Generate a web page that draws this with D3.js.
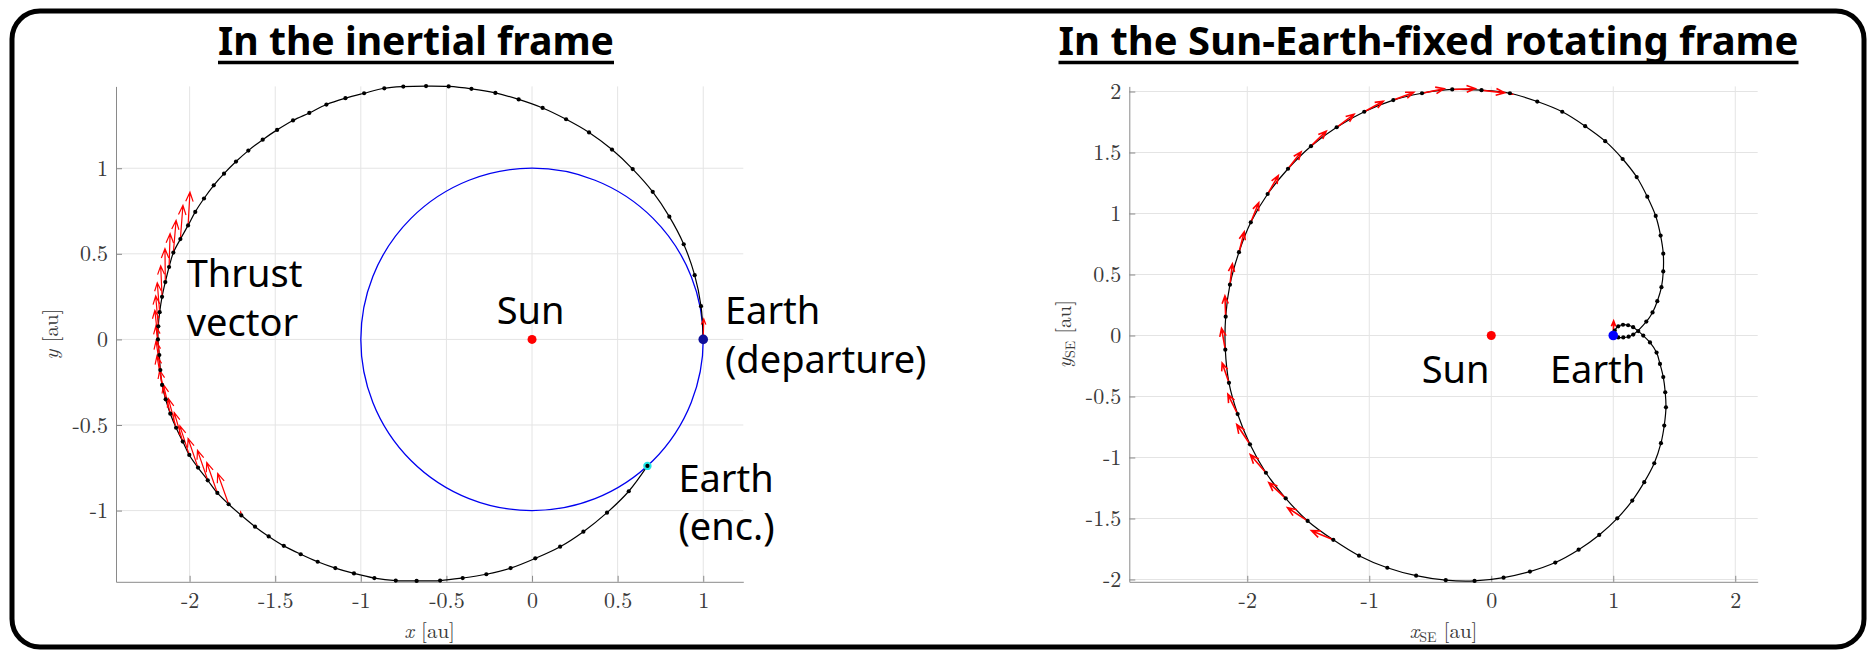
<!DOCTYPE html>
<html>
<head>
<meta charset="utf-8">
<script src="https://cdn.jsdelivr.net/npm/d3@7"></script>
<style>
  body { margin: 0; background: #fff; }
  svg { display: block; }
</style>
</head>
<body>
<div id="chart"></div>
<script>
// tick values for both panels
var xTicksInertial = [-2, -1.5, -1, -0.5, 0, 0.5, 1];
var yTicksInertial = [-1, -0.5, 0, 0.5, 1];
var xTicksRotating = [-2, -1, 0, 1, 2];
var yTicksRotating = [-2, -1.5, -1, -0.5, 0, 0.5, 1, 1.5, 2];

// transfer trajectory nodes in the inertial frame [x, y] (au)
var inertialPath = [
  [1.000,0.000],[0.987,0.194],[0.950,0.375],[0.886,0.556],[0.802,0.717],[0.705,0.862],
  [0.588,0.995],[0.467,1.109],[0.333,1.209],[0.199,1.286],[0.062,1.352],[-0.078,1.402],
  [-0.214,1.440],[-0.354,1.464],[-0.487,1.478],[-0.619,1.480],[-0.752,1.477],[-0.863,1.467],
  [-0.981,1.438],[-1.090,1.409],[-1.201,1.372],[-1.301,1.323],[-1.396,1.279],[-1.489,1.224],
  [-1.573,1.167],[-1.657,1.103],[-1.729,1.039],[-1.799,0.968],[-1.859,0.900],[-1.916,0.823],
  [-1.967,0.745],[-2.009,0.666],[-2.054,0.586],[-2.095,0.507],[-2.120,0.423],[-2.142,0.335],
  [-2.161,0.249],[-2.175,0.159],[-2.183,0.077],[-2.185,0.000],[-2.177,-0.091],[-2.171,-0.179],
  [-2.161,-0.266],[-2.140,-0.350],[-2.113,-0.434],[-2.079,-0.516],[-2.040,-0.597],[-2.002,-0.675],
  [-1.951,-0.749],[-1.894,-0.823],[-1.838,-0.897],[-1.772,-0.963],[-1.698,-1.028],[-1.618,-1.094],
  [-1.538,-1.151],[-1.450,-1.206],[-1.351,-1.255],[-1.252,-1.299],[-1.149,-1.336],[-1.040,-1.367],
  [-0.921,-1.394],[-0.796,-1.409],[-0.674,-1.411],[-0.537,-1.409],[-0.405,-1.394],[-0.267,-1.372],
  [-0.125,-1.336],[0.019,-1.279],[0.164,-1.211],[0.300,-1.123],[0.438,-1.012],[0.565,-0.887],
  [0.674,-0.739]
];

// thrust vectors in the inertial frame [x, y, dx, dy]
var thrustInertial = [
  [1.000,0.000,0.003,0.120],
  [-2.009,0.666,0.011,0.194],[-2.054,0.586,0.015,0.197],[-2.095,0.507,0.016,0.188],
  [-2.120,0.423,0.006,0.195],[-2.142,0.335,-0.002,0.195],[-2.161,0.249,-0.008,0.181],
  [-2.175,0.159,-0.014,0.172],[-2.183,0.077,-0.015,0.177],[-2.185,0.000,-0.018,0.170],
  [-2.177,-0.091,-0.020,0.170],[-2.171,-0.179,-0.025,0.170],[-2.161,-0.266,-0.030,0.170],
  [-2.140,-0.350,-0.035,0.170],[-2.113,-0.434,-0.040,0.170],[-2.079,-0.516,-0.045,0.170],
  [-2.040,-0.597,-0.050,0.170],[-2.002,-0.675,-0.055,0.170],[-1.951,-0.749,-0.058,0.170],
  [-1.894,-0.823,-0.060,0.175],[-1.838,-0.897,-0.062,0.178],[-1.772,-0.963,-0.064,0.180],
  [-1.698,-1.028,-0.004,0.020]
];

// trajectory nodes in the Sun-Earth rotating frame [x, y] (au)
var rotatingPath = [
  [1.000,0.000],[1.012,0.040],[1.041,0.075],[1.080,0.088],[1.122,0.084],[1.163,0.068],
  [1.205,0.036],[1.246,-0.001],[1.301,-0.057],[1.355,-0.140],[1.383,-0.233],[1.410,-0.341],
  [1.426,-0.465],[1.432,-0.589],[1.418,-0.738],[1.391,-0.883],[1.336,-1.047],[1.254,-1.202],
  [1.156,-1.353],[1.033,-1.499],[0.885,-1.635],[0.716,-1.756],[0.525,-1.861],[0.317,-1.935],
  [0.101,-1.985],[-0.137,-2.012],[-0.373,-2.006],[-0.616,-1.969],[-0.852,-1.904],[-1.084,-1.805],
  [-1.295,-1.675],[-1.505,-1.520],[-1.685,-1.335],[-1.847,-1.125],[-1.978,-0.892],[-2.079,-0.644],
  [-2.150,-0.388],[-2.180,-0.116],[-2.177,0.154],[-2.142,0.417],[-2.068,0.683],[-1.971,0.928],
  [-1.833,1.160],[-1.666,1.367],[-1.478,1.552],[-1.267,1.707],[-1.041,1.834],[-0.803,1.930],
  [-0.568,1.986],[-0.320,2.017],[-0.080,2.011],[0.153,1.986],[0.377,1.918],[0.582,1.834],
  [0.770,1.716],[0.934,1.593],[1.077,1.447],[1.192,1.299],[1.279,1.138],[1.348,0.980],
  [1.388,0.819],[1.410,0.671],[1.410,0.525],[1.395,0.396],[1.361,0.281],[1.322,0.189],
  [1.271,0.114],[1.164,0.008],[1.126,-0.010],[1.082,-0.016],[1.041,-0.016],[1.000,0.000]
];

// thrust vectors in the rotating frame [x, y, dx, dy]
var thrustRotating = [
  [1.000,0.000,0.003,0.120],
  [-1.295,-1.675,-0.179,0.075],[-1.505,-1.520,-0.165,0.108],[-1.685,-1.335,-0.138,0.128],
  [-1.847,-1.125,-0.128,0.148],[-1.978,-0.892,-0.108,0.162],[-2.079,-0.644,-0.080,0.162],
  [-2.150,-0.388,-0.056,0.163],[-2.180,-0.116,-0.031,0.175],[-2.177,0.154,-0.006,0.171],
  [-2.142,0.417,0.020,0.170],[-2.068,0.683,0.043,0.166],[-1.971,0.928,0.065,0.160],
  [-1.833,1.160,0.087,0.150],[-1.666,1.367,0.107,0.138],[-1.478,1.552,0.125,0.123],
  [-1.267,1.707,0.142,0.106],[-1.041,1.834,0.156,0.086],[-0.803,1.930,0.168,0.063],
  [-0.568,1.986,0.181,0.037],[-0.320,2.017,0.188,0.007],[-0.080,2.011,0.190,-0.022],
  [0.153,1.986,0.019,-0.008]
];

var sunPos = [0, 0];
var earthDeparture = [1, 0];
var earthEncounter = [0.674, -0.739];
var earthOrbitRadius = 1;

var W = 1872, H = 652;
var svg = d3.select("#chart").append("svg")
  .attr("width", W)
  .attr("height", H)
  .style("font-family", "'Noto Sans', sans-serif");

svg.append("rect").attr("width", W).attr("height", H).style("fill", "#fff");

// rounded frame around everything
svg.append("rect")
  .attr("x", 12).attr("y", 11)
  .attr("width", 1852).attr("height", 636)
  .attr("rx", 28).attr("ry", 28)
  .style("fill", "none").style("stroke", "#000").style("stroke-width", 5);

var tickFont = "'Latin Modern Roman', 'Liberation Serif', serif";

function drawArrows(g, x, y, list, sw, hf) {
  list.forEach(function(a) {
    var x0 = x(a[0]), y0 = y(a[1]),
        x1 = x(a[0] + a[2]), y1 = y(a[1] + a[3]);
    var dx = x1 - x0, dy = y1 - y0,
        len = Math.sqrt(dx*dx + dy*dy),
        ang = Math.atan2(dy, dx),
        hl = len * hf, ha = 0.38;
    var hx1 = x1 - hl*Math.cos(ang - ha), hy1 = y1 - hl*Math.sin(ang - ha),
        hx2 = x1 - hl*Math.cos(ang + ha), hy2 = y1 - hl*Math.sin(ang + ha);
    g.append("path")
      .attr("d", "M" + x0 + "," + y0 + "L" + x1 + "," + y1 +
                 "M" + hx1 + "," + hy1 + "L" + x1 + "," + y1 + "L" + hx2 + "," + hy2)
      .style("fill", "none")
      .style("stroke", "#ff0000")
      .style("stroke-width", sw);
  });
}

function drawPanel(p) {
  var g = svg.append("g");
  var x = d3.scaleLinear().domain(p.xDomain).range([p.left, p.right]);
  var y = d3.scaleLinear().domain(p.yDomain).range([p.bottom, p.top]);

  // grid
  g.selectAll(".gx").data(p.xTicks).enter().append("line")
    .attr("x1", function(d){ return x(d); }).attr("x2", function(d){ return x(d); })
    .attr("y1", p.top).attr("y2", p.bottom)
    .style("stroke", "#e4e4e4").style("stroke-width", 1);
  g.selectAll(".gy").data(p.yTicks).enter().append("line")
    .attr("x1", p.left).attr("x2", p.right)
    .attr("y1", function(d){ return y(d); }).attr("y2", function(d){ return y(d); })
    .style("stroke", "#e4e4e4").style("stroke-width", 1);

  // axes
  var ax = g.append("g")
    .attr("transform", "translate(0," + p.bottom + ")")
    .call(d3.axisBottom(x).tickValues(p.xTicks).tickSizeInner(-6).tickSizeOuter(0)
          .tickPadding(11).tickFormat(function(d){ return String(d); }));
  var ay = g.append("g")
    .attr("transform", "translate(" + p.left + ",0)")
    .call(d3.axisLeft(y).tickValues(p.yTicks).tickSizeInner(-6).tickSizeOuter(0)
          .tickPadding(8).tickFormat(function(d){ return String(d); }));
  [ax, ay].forEach(function(a) {
    a.select(".domain").style("stroke", "#8a8a8a");
    a.selectAll(".tick line").style("stroke", "#8a8a8a");
    a.selectAll("text").style("font-family", tickFont).style("font-size", "22px").style("fill", "#3a3a3a");
  });

  if (p.orbit) {
    g.append("ellipse")
      .attr("cx", x(sunPos[0])).attr("cy", y(sunPos[1]))
      .attr("rx", x(earthOrbitRadius) - x(0)).attr("ry", y(0) - y(earthOrbitRadius))
      .style("fill", "none").style("stroke", "#0000f0").style("stroke-width", 1.3);
  }

  var line = d3.line()
    .x(function(d){ return x(d[0]); })
    .y(function(d){ return y(d[1]); })
    .curve(d3.curveCatmullRom);

  g.append("path")
    .attr("d", line(p.path))
    .style("fill", "none").style("stroke", "#000").style("stroke-width", 1.2);

  drawArrows(g, x, y, p.thrust, p.arrowWidth, p.headFrac);

  g.selectAll(".node").data(p.path).enter().append("circle")
    .attr("cx", function(d){ return x(d[0]); })
    .attr("cy", function(d){ return y(d[1]); })
    .attr("r", 2.1).style("fill", "#000");

  // bodies
  g.append("circle").attr("cx", x(sunPos[0])).attr("cy", y(sunPos[1])).attr("r", 4.5).style("fill", "#ff0000");
  if (p.encounter) {
    g.append("circle").attr("cx", x(earthEncounter[0])).attr("cy", y(earthEncounter[1])).attr("r", 4.2).style("fill", "#22e6e6");
    g.append("circle").attr("cx", x(earthEncounter[0])).attr("cy", y(earthEncounter[1])).attr("r", 2.1).style("fill", "#000");
  }
  g.append("circle").attr("cx", x(earthDeparture[0])).attr("cy", y(earthDeparture[1])).attr("r", 4.8).style("fill", p.earthColor);

  // axis labels
  var xl = g.append("text")
    .attr("x", (p.left + p.right) / 2).attr("y", 638)
    .attr("text-anchor", "middle")
    .style("font-family", tickFont).style("font-size", "21px").style("fill", "#3a3a3a");
  xl.append("tspan").style("font-style", "italic").text(p.xName);
  if (p.sub) xl.append("tspan").attr("dy", 4).style("font-size", "14px").text(p.sub);
  xl.append("tspan").attr("dy", p.sub ? -4 : 0).text(" [au]");

  var yl = g.append("text")
    .attr("transform", "translate(" + (p.left - 58) + "," + ((p.top + p.bottom) / 2) + ") rotate(-90)")
    .attr("text-anchor", "middle")
    .style("font-family", tickFont).style("font-size", "21px").style("fill", "#3a3a3a");
  yl.append("tspan").style("font-style", "italic").text(p.yName);
  if (p.sub) yl.append("tspan").attr("dy", 4).style("font-size", "14px").text(p.sub);
  yl.append("tspan").attr("dy", p.sub ? -4 : 0).text(" [au]");

  // annotations
  p.notes.forEach(function(n) {
    g.append("text")
      .attr("x", x(n[1])).attr("y", y(n[2]))
      .style("font-size", "38px").style("fill", "#000")
      .text(n[0]);
  });

  // title
  svg.append("text")
    .attr("x", p.titleX).attr("y", 55)
    .attr("text-anchor", "middle")
    .attr("textLength", p.titleW).attr("lengthAdjust", "spacingAndGlyphs")
    .style("font-size", "39px").style("font-weight", "bold").style("fill", "#000")
    .text(p.title);
  svg.append("line")
    .attr("x1", p.titleX - p.titleW / 2).attr("x2", p.titleX + p.titleW / 2)
    .attr("y1", 62.5).attr("y2", 62.5)
    .style("stroke", "#000").style("stroke-width", 3.5);
}

drawPanel({
  xDomain: [-2.43, 1.234], yDomain: [-1.416, 1.478],
  left: 116, right: 743.3, top: 86.4, bottom: 581.8,
  xTicks: xTicksInertial, yTicks: yTicksInertial,
  path: inertialPath, thrust: thrustInertial, arrowWidth: 1.2, headFrac: 0.3,
  orbit: true, encounter: true, earthColor: "#10109a",
  xName: "x", yName: "y", sub: null,
  notes: [["Thrust", -2.017, 0.309], ["vector", -2.017, 0.022], ["Sun", -0.206, 0.088],
          ["Earth", 1.127, 0.088], ["(departure)", 1.127, -0.198],
          ["Earth", 0.855, -0.893], ["(enc.)", 0.855, -1.169]],
  title: "In the inertial frame", titleX: 416, titleW: 396
});

drawPanel({
  xDomain: [-2.967, 2.184], yDomain: [-2.019, 2.042],
  left: 1129.3, right: 1757.7, top: 86.4, bottom: 581.8,
  xTicks: xTicksRotating, yTicks: yTicksRotating,
  path: rotatingPath, thrust: thrustRotating, arrowWidth: 1.6, headFrac: 0.4,
  orbit: false, encounter: false, earthColor: "#0000ff",
  xName: "x", yName: "y", sub: "SE",
  notes: [["Sun", -0.570, -0.388], ["Earth", 0.481, -0.388]],
  title: "In the Sun-Earth-fixed rotating frame", titleX: 1428.5, titleW: 740
});
</script>
</body>
</html>
